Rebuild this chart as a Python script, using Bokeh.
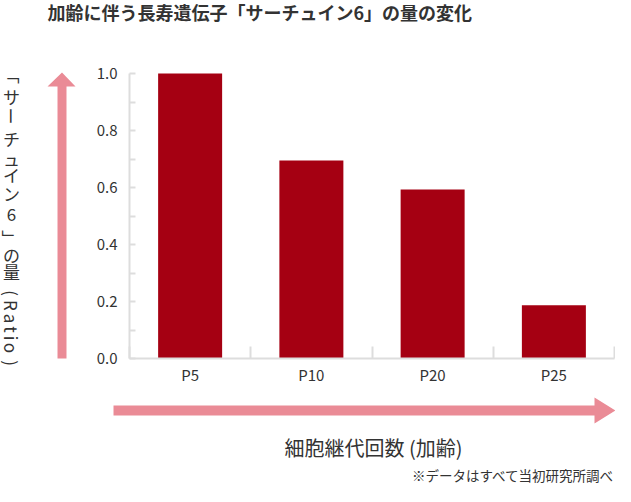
import math
from bokeh.plotting import figure
from bokeh.models import Label, PolyAnnotation, FixedTicker, NumeralTickFormatter, Range1d
from bokeh.embed import file_html
from bokeh.resources import INLINE

# ---- data ----
categories = ["P5", "P10", "P20", "P25"]
ratio = [1.0, 0.695, 0.593, 0.187]
y_ticks = [0.0, 0.2, 0.4, 0.6, 0.8, 1.0]
y_minor_ticks = [0.1, 0.3, 0.5, 0.7, 0.9]
title_text = "加齢に伴う長寿遺伝子「サーチュイン6」の量の変化"
x_title = "細胞継代回数 (加齢)"
note_text = "※データはすべて当初研究所調べ"
# vertical y-axis title, one glyph per entry
y_title_glyphs = ["「", "サ", "ー", "チ", "ュ", "イ", "ン", "6", "」", "の", "量",
                  "(", "R", "a", "t", "i", "o", ")"]
y_title_rotated = [True, False, True, False, False, False, False, False, True, False, False,
                   True, True, True, True, True, True, True]

# ---- style / layout ----
FONT = "Noto Sans CJK JP"
BAR = "#a50012"
PINK = "#ea8b96"
AXIS = "#dddddd"
TEXT = "#333333"

W, H = 615, 486
CL, CR, CT, CB = 129, 614, 73, 358   # chart area edges in canvas pixels

n = len(categories)
centers = [i + 0.5 for i in range(n)]
bounds = [float(i) for i in range(n + 1)]
ymax = y_ticks[-1]

# the frame covers the whole canvas; the chart area is mapped through the ranges
px_x = (CR - CL) / n
px_y = (CB - CT) / ymax
x_range = Range1d(-CL / px_x, (W - CL) / px_x)
y_range = Range1d(-(H - CB) / px_y, CB / px_y)

p = figure(width=W, height=H, output_backend="svg", toolbar_location=None,
           x_range=x_range, y_range=y_range,
           min_border=0, min_border_left=0, min_border_right=0,
           min_border_top=0, min_border_bottom=0)
p.title.visible = False
p.outline_line_color = None
p.grid.visible = False
p.background_fill_color = "white"
p.border_fill_color = "white"

p.vbar(x=centers, top=ratio, bottom=0, width=64 / px_x, fill_color=BAR, line_color=None)

# x axis
xa = p.xaxis[0]
xa.fixed_location = 0
xa.bounds = (0, n)
xa.ticker = FixedTicker(ticks=centers, minor_ticks=bounds)
xa.major_label_overrides = {c: name for c, name in zip(centers, categories)}
xa.major_tick_in = 0
xa.major_tick_out = 0
xa.minor_tick_in = 12
xa.minor_tick_out = 0
xa.minor_tick_line_color = AXIS
xa.minor_tick_line_width = 2
xa.axis_line_color = AXIS
xa.axis_line_width = 2
xa.major_label_standoff = 5
xa.major_label_text_font = FONT
xa.major_label_text_font_size = "15px"
xa.major_label_text_color = TEXT

# y axis
ya = p.yaxis[0]
ya.fixed_location = 0
ya.bounds = (0, ymax)
ya.ticker = FixedTicker(ticks=y_ticks, minor_ticks=y_minor_ticks)
ya.formatter = NumeralTickFormatter(format="0.0")
ya.major_tick_in = 6
ya.major_tick_out = 0
ya.minor_tick_in = 6
ya.minor_tick_out = 0
ya.major_tick_line_color = AXIS
ya.major_tick_line_width = 2
ya.minor_tick_line_color = AXIS
ya.minor_tick_line_width = 2
ya.axis_line_color = AXIS
ya.axis_line_width = 2
ya.major_label_standoff = 12
ya.major_label_text_font = FONT
ya.major_label_text_font_size = "15px"
ya.major_label_text_color = TEXT


def add_text(text, cx, cy, size, align="center", baseline="middle", angle=0.0,
             bold=False, color=TEXT):
    p.add_layout(Label(x=cx, y=H - cy, x_units="screen", y_units="screen",
                       text=text, text_font=FONT, text_font_size=f"{size}px",
                       text_align=align, text_baseline=baseline, angle=angle,
                       text_color=color,
                       text_font_style="bold" if bold else "normal"))


def add_poly(xs, ys):
    p.add_layout(PolyAnnotation(xs=list(xs), ys=[H - y for y in ys],
                                xs_units="screen", ys_units="screen",
                                fill_color=PINK, fill_alpha=1.0, line_color=None))


# title, axis titles, note
add_text(title_text, 47, 11, 18, align="left", bold=True)
add_text(x_title, 373, 447, 20)
add_text(note_text, 614, 474, 13.5, align="right")

# vertical y-axis title, glyph by glyph
y_title_pos = [75, 95.5, 115.5, 137.5, 157.5, 173.5, 192.5, 213.5, 238, 253.5, 271,
               292.5, 305, 318, 329, 337.5, 347.5, 362.5]
for g, rot, cy in zip(y_title_glyphs, y_title_rotated, y_title_pos):
    add_text(g, 11, cy, 17, angle=(-math.pi / 2 if rot else 0.0))

# arrows
add_poly([57, 66, 66, 75, 61.5, 47, 57], [358, 358, 86, 86, 72, 86, 86])
add_poly([113, 594, 594, 615, 594, 594, 113], [405, 405, 397, 410, 423, 415, 415])

open("out.html", "w").write(file_html(p, INLINE))
